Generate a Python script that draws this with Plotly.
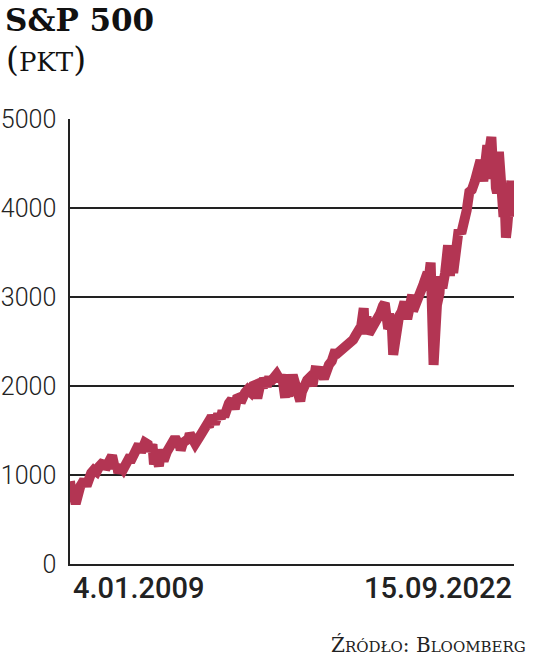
import plotly.graph_objects as go

# S&P 500, close (pkt)
dates = [
    "2009-01-04", "2009-01-20", "2009-02-01", "2009-03-09", "2009-03-31", "2009-04-30", "2009-05-29",
    "2009-06-12", "2009-07-10", "2009-07-31", "2009-08-31", "2009-09-30", "2009-10-30", "2009-11-30",
    "2009-12-31",
    "2010-01-19", "2010-02-05", "2010-02-26", "2010-03-31", "2010-04-23", "2010-05-25", "2010-06-18",
    "2010-07-02", "2010-07-30", "2010-08-27", "2010-09-30", "2010-10-29", "2010-11-30", "2010-12-31",
    "2011-01-31", "2011-02-18", "2011-03-16", "2011-04-29", "2011-05-31", "2011-06-16", "2011-07-22",
    "2011-08-08", "2011-08-31", "2011-10-03", "2011-10-27", "2011-11-25", "2011-12-30",
    "2012-01-31", "2012-02-29", "2012-04-02", "2012-05-31", "2012-06-04", "2012-06-29", "2012-07-31",
    "2012-08-31", "2012-09-14", "2012-10-31", "2012-11-15", "2012-12-31",
    "2013-01-31", "2013-02-28", "2013-03-28", "2013-04-18", "2013-05-21", "2013-06-24", "2013-07-31",
    "2013-08-30", "2013-09-18", "2013-10-08", "2013-10-31", "2013-11-29", "2013-12-31",
    "2014-02-03", "2014-02-28", "2014-03-31", "2014-04-11", "2014-04-30", "2014-05-30", "2014-06-30",
    "2014-07-31", "2014-08-29", "2014-09-18", "2014-10-15", "2014-10-31", "2014-11-28", "2014-12-16",
    "2014-12-29",
    "2015-01-30", "2015-02-27", "2015-03-10", "2015-03-31", "2015-04-30", "2015-05-21", "2015-06-30",
    "2015-07-20", "2015-08-25", "2015-08-31", "2015-09-29", "2015-10-30", "2015-11-30", "2015-12-14",
    "2015-12-31",
    "2016-01-20", "2016-02-11", "2016-02-29", "2016-03-31", "2016-04-29", "2016-05-31", "2016-06-27",
    "2016-07-29", "2016-08-31", "2016-09-30", "2016-11-04", "2016-11-30", "2016-12-30",
    "2017-01-31", "2017-02-28", "2017-03-31", "2017-04-28", "2017-05-31", "2017-06-30", "2017-07-31",
    "2017-08-31", "2017-09-29", "2017-10-31", "2017-11-30", "2017-12-29",
    "2018-01-26", "2018-02-08", "2018-02-26", "2018-03-23", "2018-04-30", "2018-05-31", "2018-06-29",
    "2018-07-31", "2018-08-31", "2018-09-20", "2018-10-29", "2018-11-07", "2018-11-23", "2018-12-03",
    "2018-12-24",
    "2019-01-31", "2019-02-28", "2019-03-29", "2019-04-30", "2019-05-31", "2019-06-28", "2019-07-26",
    "2019-08-05", "2019-08-30", "2019-09-30", "2019-10-31", "2019-11-29", "2019-12-31",
    "2020-01-31", "2020-02-19", "2020-02-28", "2020-03-12", "2020-03-23", "2020-04-30", "2020-05-29",
    "2020-06-08", "2020-06-30", "2020-07-31", "2020-09-02", "2020-09-23", "2020-10-12", "2020-10-30",
    "2020-11-30", "2020-12-31",
    "2021-01-29", "2021-02-26", "2021-03-31", "2021-04-30", "2021-05-28", "2021-06-30", "2021-07-30",
    "2021-09-02", "2021-10-04", "2021-10-29", "2021-11-18", "2021-11-30", "2021-12-31",
    "2022-01-03", "2022-01-27", "2022-02-09", "2022-02-23", "2022-03-08", "2022-03-29", "2022-04-29",
    "2022-05-20", "2022-05-31", "2022-06-16", "2022-06-30", "2022-07-29", "2022-08-16", "2022-08-31",
    "2022-09-12", "2022-09-15",
]
closes = [
    931, 805, 826, 677, 798, 873, 919, 946, 879, 987, 1021, 1057, 1036, 1096, 1115,
    1150, 1066, 1104, 1169, 1217, 1074, 1118, 1022, 1102, 1065, 1141, 1183, 1181, 1258,
    1286, 1343, 1257, 1364, 1345, 1268, 1345, 1119, 1219, 1099, 1285, 1159, 1258,
    1312, 1366, 1419, 1310, 1278, 1362, 1379, 1407, 1466, 1412, 1353, 1426,
    1498, 1515, 1569, 1541, 1669, 1573, 1686, 1633, 1725, 1656, 1757, 1806, 1848,
    1742, 1859, 1872, 1816, 1884, 1924, 1960, 1931, 2003, 2011, 1862, 2018, 2068, 1972, 2091,
    1995, 2105, 2044, 2068, 2086, 2131, 2063, 2128, 1868, 1972, 1884, 2079, 2080, 2012, 2044,
    1859, 1829, 1932, 2060, 2065, 2097, 2001, 2174, 2171, 2168, 2085, 2199, 2239,
    2279, 2364, 2363, 2384, 2412, 2423, 2470, 2472, 2519, 2575, 2648, 2674,
    2873, 2581, 2780, 2588, 2648, 2705, 2718, 2816, 2902, 2931, 2641, 2814, 2633, 2790, 2351,
    2704, 2784, 2834, 2946, 2752, 2942, 3026, 2844, 2926, 2977, 3038, 3141, 3231,
    3226, 3386, 2954, 2481, 2237, 2912, 3044, 3232, 3100, 3271, 3580, 3237, 3534, 3270, 3622, 3756,
    3714, 3811, 3973, 4181, 4204, 4298, 4395, 4537, 4300, 4605, 4705, 4567, 4766,
    4797, 4327, 4587, 4226, 4171, 4632, 4132, 3901, 4132, 3667, 3785, 4130, 4305, 3955, 4110, 3901,
]
y_ticks = [0, 1000, 2000, 3000, 4000, 5000]
first_label = "4.01.2009"
last_label = "15.09.2022"

W, H = 536, 658
L, T, R, B = 70, 119, 536 - 514, 658 - 564
pw, ph = W - L - R, H - T - B


# page pixel -> paper coordinate
def px(x):
    return (x - L) / pw


def py(y):
    return (H - B - y) / ph


red = "#b33553"
serif = "DejaVu Serif, serif"
sans = "Roboto, Liberation Sans, sans-serif"

fig = go.Figure(go.Scatter(
    x=dates, y=closes, mode="lines",
    line=dict(color=red, width=10),
    hoverinfo="skip",
))

fig.update_layout(
    width=W, height=H,
    margin=dict(l=L, r=R, t=T, b=B, autoexpand=False),
    paper_bgcolor="white", plot_bgcolor="white",
    showlegend=False,
    xaxis=dict(
        type="date", range=["2009-01-04", "2022-09-15"],
        showgrid=False, showticklabels=False, ticks="",
        showline=True, linecolor="#222", linewidth=1.5,
        zeroline=False, automargin=False,
    ),
    yaxis=dict(
        range=[0, 5000], tickvals=y_ticks,
        showgrid=True, gridcolor="#222", gridwidth=1.5,
        showline=True, linecolor="#222", linewidth=1.5,
        zeroline=False, ticks="", ticklabelstandoff=7, automargin=False,
        tickfont=dict(family=sans, size=25, color="#222", weight=300),
    ),
    annotations=[
        dict(text="<b>S&P 500</b>", x=px(3), y=py(20), xanchor="left", yanchor="middle",
             font=dict(family=serif, size=31, color="#111")),
        dict(text="(<span style='font-size:26px'>PKT</span>)", x=px(4), y=py(60),
             xanchor="left", yanchor="middle",
             font=dict(family=serif, size=33, color="#111")),
        dict(text=first_label, x=px(71), y=py(588), xanchor="left", yanchor="middle",
             font=dict(family=sans, size=29, color="#222", weight=500)),
        dict(text=last_label, x=px(514), y=py(588), xanchor="right", yanchor="middle",
             font=dict(family=sans, size=29, color="#222", weight=500)),
        dict(text="Ź<span style='font-size:15px'>RÓDŁO</span>: B<span style='font-size:15px'>LOOMBERG</span>",
             x=px(528), y=py(645), xanchor="right", yanchor="middle",
             font=dict(family=serif, size=20, color="#222")),
    ],
)
for a in fig.layout.annotations:
    a.update(xref="paper", yref="paper", showarrow=False)

# the page body has a default 8px margin; drop it so the figure fills the window
fig.write_html("out.html", config={"displayModeBar": False},
               post_script="document.body.style.margin = '0';")
